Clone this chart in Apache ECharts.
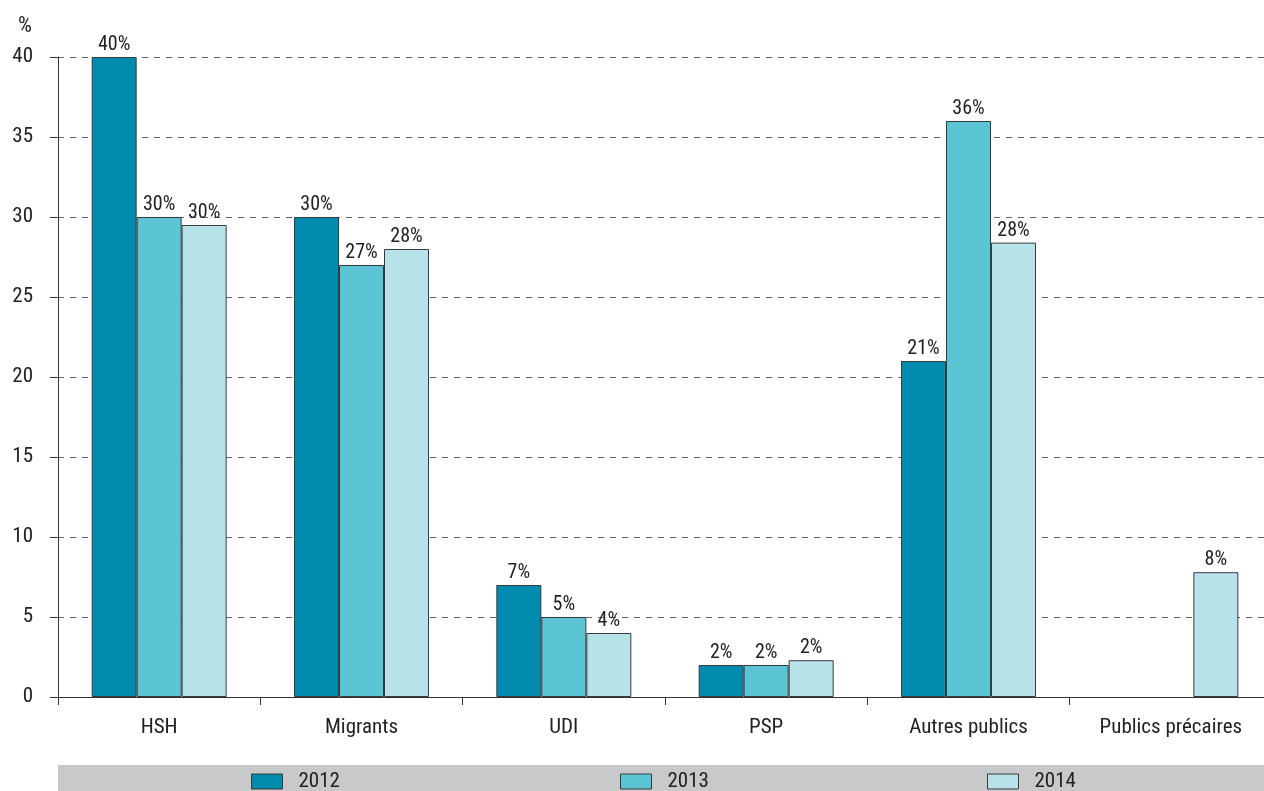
<!DOCTYPE html>
<html>
<head>
<meta charset="utf-8">
<script src="https://cdn.jsdelivr.net/npm/echarts@6/dist/echarts.min.js"></script>
<style>
  html, body { margin: 0; padding: 0; background: #fff; }
  #main { width: 1264px; height: 791px; }
</style>
</head>
<body>
<div id="main"></div>
<script>
var categories = ['HSH', 'Migrants', 'UDI', 'PSP', 'Autres publics', 'Publics précaires'];
var years = ['2012', '2013', '2014'];
var values2012 = [40, 30, 7, 2, 21, null];
var values2013 = [30, 27, 5, 2, 36, null];
var values2014 = [29.5, 28, 4, 2.3, 28.4, 7.8];
var yTicks = [0, 5, 10, 15, 20, 25, 30, 35, 40];

var colors = ['#008aad', '#5bc4d5', '#b8e2e9'];
var font = '"Liberation Sans Narrow", "Roboto Condensed", "Liberation Sans", sans-serif';

var chart = echarts.init(document.getElementById('main'));

function makeSeries(name, data, color) {
  return {
    name: name,
    type: 'bar',
    data: data,
    barWidth: 45,
    barGap: '0%',
    itemStyle: {
      color: color,
      borderColor: '#3a3a3a',
      borderWidth: 1
    },
    label: {
      show: true,
      position: 'top',
      distance: 2,
      color: '#222',
      fontSize: 20,
      fontFamily: font,
      formatter: function (p) {
        return Math.round(p.value) + '%';
      }
    }
  };
}

// one legend per year, placed like the reference strip
var legendLeft = [251, 620, 987];
var legends = years.map(function (y, i) {
  return {
    data: [y],
    left: legendLeft[i],
    top: 771,
    padding: 0,
    itemWidth: 31,
    itemHeight: 15,
    icon: 'rect',
    textStyle: { fontSize: 21, color: '#222', fontFamily: font, padding: [0, 0, 0, 11] },
    itemStyle: { borderColor: '#3a3a3a', borderWidth: 1 }
  };
});

var option = {
  animation: false,
  textStyle: { fontFamily: font },
  // plot runs a little past the right edge, as in the source
  grid: { left: 58, width: 1214, top: 57, bottom: 94, outerBoundsMode: 'none', containLabel: false },
  graphic: [{
    type: 'rect',
    left: 58,
    top: 765,
    shape: { width: 1206, height: 26 },
    style: { fill: '#c8c9cb' },
    z: -1
  }],
  legend: legends,
  xAxis: {
    type: 'category',
    data: categories,
    axisLine: { lineStyle: { color: '#333', width: 1 } },
    axisTick: { show: true, length: 8, lineStyle: { color: '#333' } },
    axisLabel: { color: '#222', fontSize: 21, margin: 20, fontFamily: font }
  },
  yAxis: {
    type: 'value',
    min: 0,
    max: 40,
    interval: 5,
    name: '%',
    nameLocation: 'end',
    nameGap: 20,
    nameTextStyle: { color: '#222', fontSize: 22, align: 'right', padding: [0, 26, 0, 0], fontFamily: font },
    axisLine: { show: true, lineStyle: { color: '#333', width: 1 } },
    axisTick: { show: true, length: 8, lineStyle: { color: '#333' } },
    axisLabel: {
      color: '#222',
      fontSize: 21,
      margin: 25,
      fontFamily: font,
      formatter: function (v) { return yTicks.indexOf(v) >= 0 ? String(v) : ''; }
    },
    splitLine: { show: true, lineStyle: { color: '#666', type: [6, 6], width: 1 } }
  },
  series: [
    makeSeries(years[0], values2012, colors[0]),
    makeSeries(years[1], values2013, colors[1]),
    makeSeries(years[2], values2014, colors[2])
  ]
};

chart.setOption(option);
</script>
</body>
</html>
